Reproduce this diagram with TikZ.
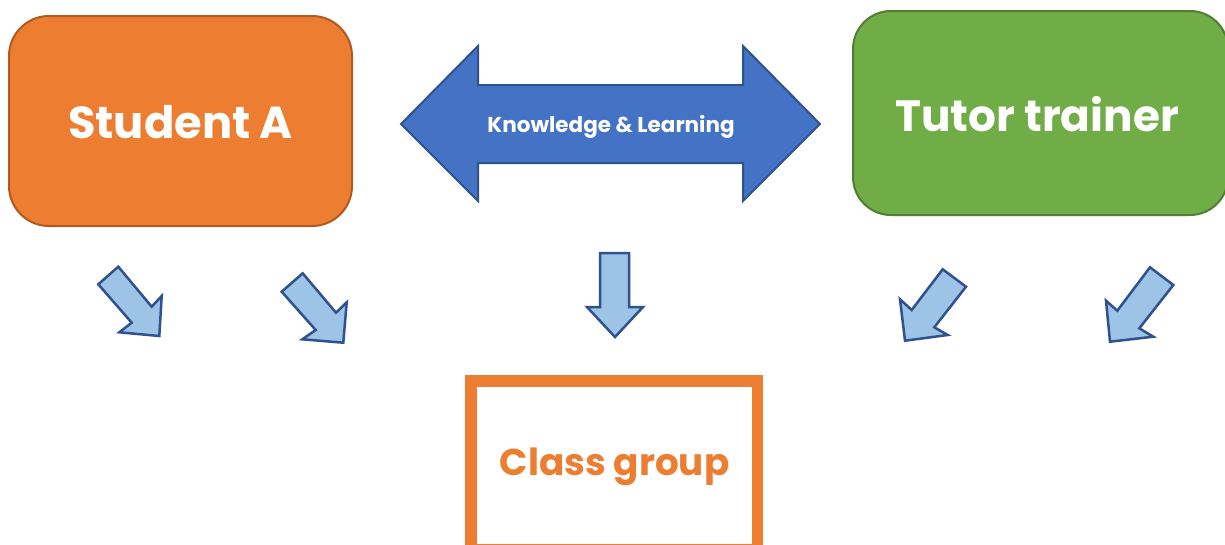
\documentclass[tikz,border=0pt]{standalone}
\usepackage{fontspec}
\setmainfont{Poppins}
\definecolor{orangefill}{HTML}{ED7D31}
\definecolor{orangeline}{HTML}{AE5A21}
\definecolor{greenfill}{HTML}{70AD47}
\definecolor{greenline}{HTML}{507E32}
\definecolor{bluefill}{HTML}{4472C4}
\definecolor{blueline}{HTML}{2F528F}
\definecolor{lightblue}{HTML}{9DC3E6}
\tikzset{
  rolebox/.style={draw, line width=2pt, rounded corners=40pt},
  bigarrow/.style={fill=bluefill, draw=blueline, line width=2pt, line join=miter},
  smallarrow/.style={fill=lightblue, draw=blueline, line width=2.5pt, line join=miter},
  whitelabel/.style={text=white, font=\bfseries},
}
\begin{document}
\begin{tikzpicture}[x=1pt,y=-1pt]
\useasboundingbox (0,0) rectangle (1225,544);
\fill[white] (0,0) rectangle (1225,544);

% role boxes
\draw[rolebox, fill=orangefill, draw=orangeline] (9,16) rectangle (352,226);
\node[whitelabel, font=\fontsize{44.8}{44.8}\bfseries] (student) at (180.5,122) {Student A};

\draw[rolebox, fill=greenfill, draw=greenline, rounded corners=38pt] (853,11) rectangle (1228,215);
\node[whitelabel, font=\fontsize{43.8}{43.8}\bfseries] (tutor) at (1037,114) {Tutor trainer};

% knowledge exchange arrow
\draw[bigarrow] (401,124) -- (478,46) -- (478,85) -- (743,85) -- (743,46) -- (820,124)
  -- (743,201) -- (743,163) -- (478,163) -- (478,201) -- cycle;
\node[whitelabel, font=\fontsize{21.5}{21.5}\bfseries] (knowledge) at (611,126.5) {Knowledge \& Learning};

% arrows pointing towards the class group
\draw[smallarrow] (98.3,284.3) -- (118.3,266.7) -- (151.7,306.7) -- (161.7,296) -- (159.3,336)
  -- (119.3,332.3) -- (131.7,322.7) -- cycle;
\draw[smallarrow] (281.7,291.7) -- (302.7,273.3) -- (336,312.7) -- (346.7,302.3) -- (343.3,342.7)
  -- (302.3,339.3) -- (315.7,330) -- cycle;
\draw[smallarrow] (600,253) -- (629,253) -- (629,307) -- (643,307) -- (615,337)
  -- (587,307) -- (600,307) -- cycle;
\draw[smallarrow] (966,286.7) -- (942.7,269.3) -- (911.7,310) -- (900,299.3) -- (905,340.7)
  -- (947.7,335) -- (934.3,327.3) -- cycle;
\draw[smallarrow] (1173.3,285) -- (1150,267.3) -- (1117.3,310.7) -- (1106,300.7) -- (1110,341.7)
  -- (1153.3,336.7) -- (1139.3,328.3) -- cycle;

% class group
\draw[draw=orangefill, line width=11.5pt] (471,381) rectangle (757.5,550);
\node[text=orangefill, font=\fontsize{37.3}{37.3}\bfseries] (class) at (614.5,467) {Class group};
\end{tikzpicture}
\end{document}
